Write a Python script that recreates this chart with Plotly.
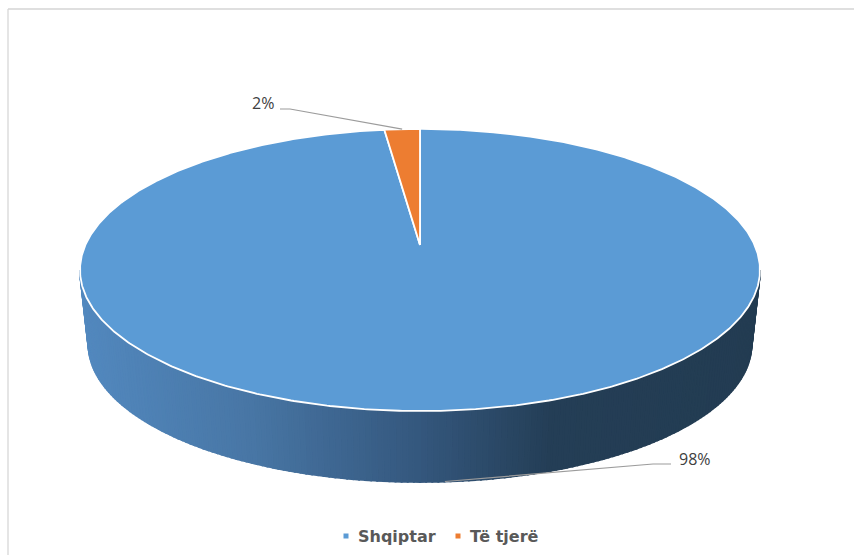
import numpy as np
import plotly.graph_objects as go

# Data
categories = ["Shqiptar", "Të tjerë"]
values = [98, 2]
colors = ["#5b9bd5", "#ed7d31"]

# Pie projection (pixel-like axes)
CX, APEX_Y = 420.0, 245.0
A, B, K = 334.6, 136.6, 0.1773
DROP, SHRINK = 75.0, 0.975
SIDE_STOPS_X = [85, 250, 420, 550, 760]
SIDE_R = [82, 72, 52, 36, 35]
SIDE_G = [136, 118, 87, 62, 60]
SIDE_B = [190, 165, 125, 86, 82]
WHITE = "#ffffff"
GREY = "#9c9c9c"
TEXT = "#404040"
FONT = "Open Sans, Liberation Sans, sans-serif"
LEGEND_X = [346, 458]
LEGEND_TEXT_GAP = 12
LEGEND_Y = 536


def top_point(theta):
    s, c = np.sin(theta), np.cos(theta)
    d = 1 + K * c
    return CX + A * s / d, APEX_Y - B * c / d


def bottom_point(theta):
    s, c = np.sin(theta), np.cos(theta)
    d = 1 + K * c
    return CX + SHRINK * A * s / d, APEX_Y + DROP - SHRINK * B * c / d


fig = go.Figure()

# Side wall: gradient strips along the front of the disc
tangent = np.arccos(-K)
edges = np.linspace(tangent, 2 * np.pi - tangent, 181)
for t0, t1 in zip(edges[:-1], edges[1:]):
    x0, y0 = top_point(t0)
    x1, y1 = top_point(t1)
    x2, y2 = bottom_point(t1)
    x3, y3 = bottom_point(t0)
    xm = (x0 + x1 + x2 + x3) / 4
    col = "rgb({:.0f},{:.0f},{:.0f})".format(
        np.interp(xm, SIDE_STOPS_X, SIDE_R),
        np.interp(xm, SIDE_STOPS_X, SIDE_G),
        np.interp(xm, SIDE_STOPS_X, SIDE_B),
    )
    fig.add_trace(go.Scatter(
        x=[x0, x1, x2, x3, x0], y=[y0, y1, y2, y3, y0],
        mode="lines", fill="toself", fillcolor=col,
        line=dict(color=col, width=2), showlegend=False, hoverinfo="skip",
    ))

# Top face slices, from the values
total = sum(values)
start = 0.0
mids = []
for name, val, col in zip(categories, values, colors):
    end = start + 2 * np.pi * val / total
    th = np.linspace(start, end, max(int(val * 8), 12))
    px, py = top_point(th)
    fig.add_trace(go.Scatter(
        x=np.r_[CX, px, CX], y=np.r_[APEX_Y, py, APEX_Y],
        mode="lines", fill="toself", fillcolor=col,
        line=dict(color=WHITE, width=1.8), showlegend=False,
        name=name, hoverinfo="name",
    ))
    mids.append((start + end) / 2)
    start = end

# Leader lines and data labels
mx, my = bottom_point(mids[0])
fig.add_trace(go.Scatter(x=[mx, 653, 671], y=[my, 464, 464], mode="lines",
                         line=dict(color=GREY, width=1.2), showlegend=False, hoverinfo="skip"))
mx, my = top_point(mids[1])
fig.add_trace(go.Scatter(x=[mx, 290, 280], y=[my, 109, 109], mode="lines",
                         line=dict(color=GREY, width=1.2), showlegend=False, hoverinfo="skip"))
fig.add_annotation(x=695, y=459, text=f"{values[0]}%", showarrow=False,
                   font=dict(family=FONT, size=16, color=TEXT))
fig.add_annotation(x=263, y=103, text=f"{values[1]}%", showarrow=False,
                   font=dict(family=FONT, size=16, color=TEXT))

# Legend entries, spaced as in the reference
for name, col, lx in zip(categories, colors, LEGEND_X):
    fig.add_trace(go.Scatter(
        x=[lx], y=[LEGEND_Y], mode="markers", name=name,
        marker=dict(symbol="square", size=5, color=col), showlegend=False, hoverinfo="name",
    ))
    fig.add_annotation(x=lx + LEGEND_TEXT_GAP, y=LEGEND_Y, text=name, showarrow=False, xanchor="left",
                       xshift=-2, font=dict(family="DejaVu Sans, sans-serif", size=16,
                                            color="#595959", weight="bold"))

# Chart frame (left and top only)
fig.add_shape(type="line", xref="x", yref="y", x0=8, x1=8, y0=9, y1=555,
              line=dict(color="#dcdcdc", width=1.5))
fig.add_shape(type="line", xref="x", yref="y", x0=8, x1=854, y0=9, y1=9,
              line=dict(color="#d4d4d4", width=1.5))

fig.update_layout(
    width=854, height=555, margin=dict(l=0, r=0, t=0, b=0),
    paper_bgcolor="white", plot_bgcolor="white", showlegend=False,
    xaxis=dict(range=[0, 854], visible=False, fixedrange=True),
    yaxis=dict(range=[555, 0], visible=False, fixedrange=True),
)
fig.write_html("out.html", config={"displayModeBar": False},
               post_script="document.body.style.margin='0';")
